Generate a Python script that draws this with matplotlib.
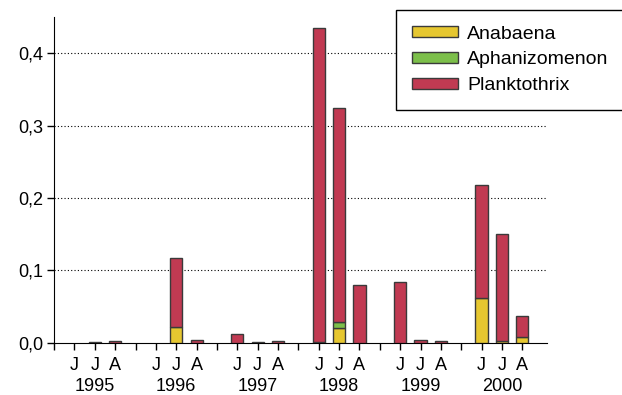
import numpy as np
import matplotlib
matplotlib.use('Agg')
import matplotlib.pyplot as plt
from matplotlib.ticker import FuncFormatter
from matplotlib.patches import Patch

plt.rcParams['font.family'] = ['Liberation Sans', 'DejaVu Sans']

# datos (J, J, A por cada año)
anos = ['1995', '1996', '1997', '1998', '1999', '2000']
meses = ['J', 'J', 'A']
anabaena = [0, 0, 0,  0, 0.022, 0,  0, 0, 0,  0.001, 0.021, 0,  0, 0, 0,  0.062, 0.002, 0.008]
aphanizomenon = [0, 0, 0,  0, 0, 0,  0, 0, 0,  0, 0.008, 0,  0, 0, 0,  0, 0, 0]
planktothrix = [0, 0.001, 0.002,  0, 0.095, 0.004,  0.012, 0.001, 0.002,
                0.434, 0.295, 0.080,  0.084, 0.004, 0.003,  0.156, 0.148, 0.029]

col_ana = '#e6c730'
col_aph = '#7cbf4a'
col_pla = '#c13a52'
borde = '#3a3a3a'

# posiciones: cada año ocupa 4 huecos (separador + J J A)
pos = np.array([4 * g + 1 + k for g in range(len(anos)) for k in range(3)])
ana = np.array(anabaena)
aph = np.array(aphanizomenon)
pla = np.array(planktothrix)

fig = plt.figure(figsize=(6.22, 3.95), dpi=100)
ax = fig.add_axes([0.087, 0.132, 0.792, 0.825])

ancho = 0.6
# sin borde cuando el valor es cero
ax.bar(pos, ana, ancho, color=col_ana, edgecolor=borde, linewidth=np.where(ana > 0, 1, 0), zorder=3)
ax.bar(pos, aph, ancho, bottom=ana, color=col_aph, edgecolor=borde, linewidth=np.where(aph > 0, 1, 0), zorder=3)
ax.bar(pos, pla, ancho, bottom=ana + aph, color=col_pla, edgecolor=borde, linewidth=np.where(pla > 0, 1, 0), zorder=3)

ax.set_xlim(0, 24.2)
ax.set_ylim(0, 0.45)
ax.set_yticks([0, 0.1, 0.2, 0.3, 0.4])
ax.yaxis.set_major_formatter(FuncFormatter(lambda v, p: f'{v:.1f}'.replace('.', ',')))
ax.tick_params(axis='y', labelsize=13, length=5, width=1, direction='out', pad=3)

ax.set_xticks(np.arange(0, 24))
etiquetas = ['' if i % 4 == 0 else meses[i % 4 - 1] for i in range(24)]
ax.set_xticklabels(etiquetas)
ax.tick_params(axis='x', labelsize=13, length=5, width=1, direction='out', pad=5)

for g, a in enumerate(anos):
    ax.annotate(a, xy=(4 * g + 2, 0), xycoords=('data', 'axes fraction'),
                xytext=(0, -25.5), textcoords='offset points', ha='center', va='top', fontsize=13)

for v in [0.1, 0.2, 0.3, 0.4]:
    ax.axhline(v, color='black', linestyle=(0, (1, 2)), linewidth=0.8, zorder=1)

ax.spines['top'].set_visible(False)
ax.spines['right'].set_visible(False)

handles = [Patch(facecolor=col_ana, edgecolor=borde, linewidth=1, label='Anabaena'),
           Patch(facecolor=col_aph, edgecolor=borde, linewidth=1, label='Aphanizomenon'),
           Patch(facecolor=col_pla, edgecolor=borde, linewidth=1, label='Planktothrix')]
leg = fig.legend(handles=handles, loc='upper left', bbox_to_anchor=(396 / 622, 1 - 10 / 395), fontsize=14,
                 handlelength=2.37, handleheight=0.46, labelspacing=0.46, handletextpad=0.5,
                 borderpad=0.8, borderaxespad=0, fancybox=False, framealpha=1, edgecolor='black')
leg.get_frame().set_linewidth(1)
leg.set_zorder(10)

fig.savefig('out.png', dpi=100)
